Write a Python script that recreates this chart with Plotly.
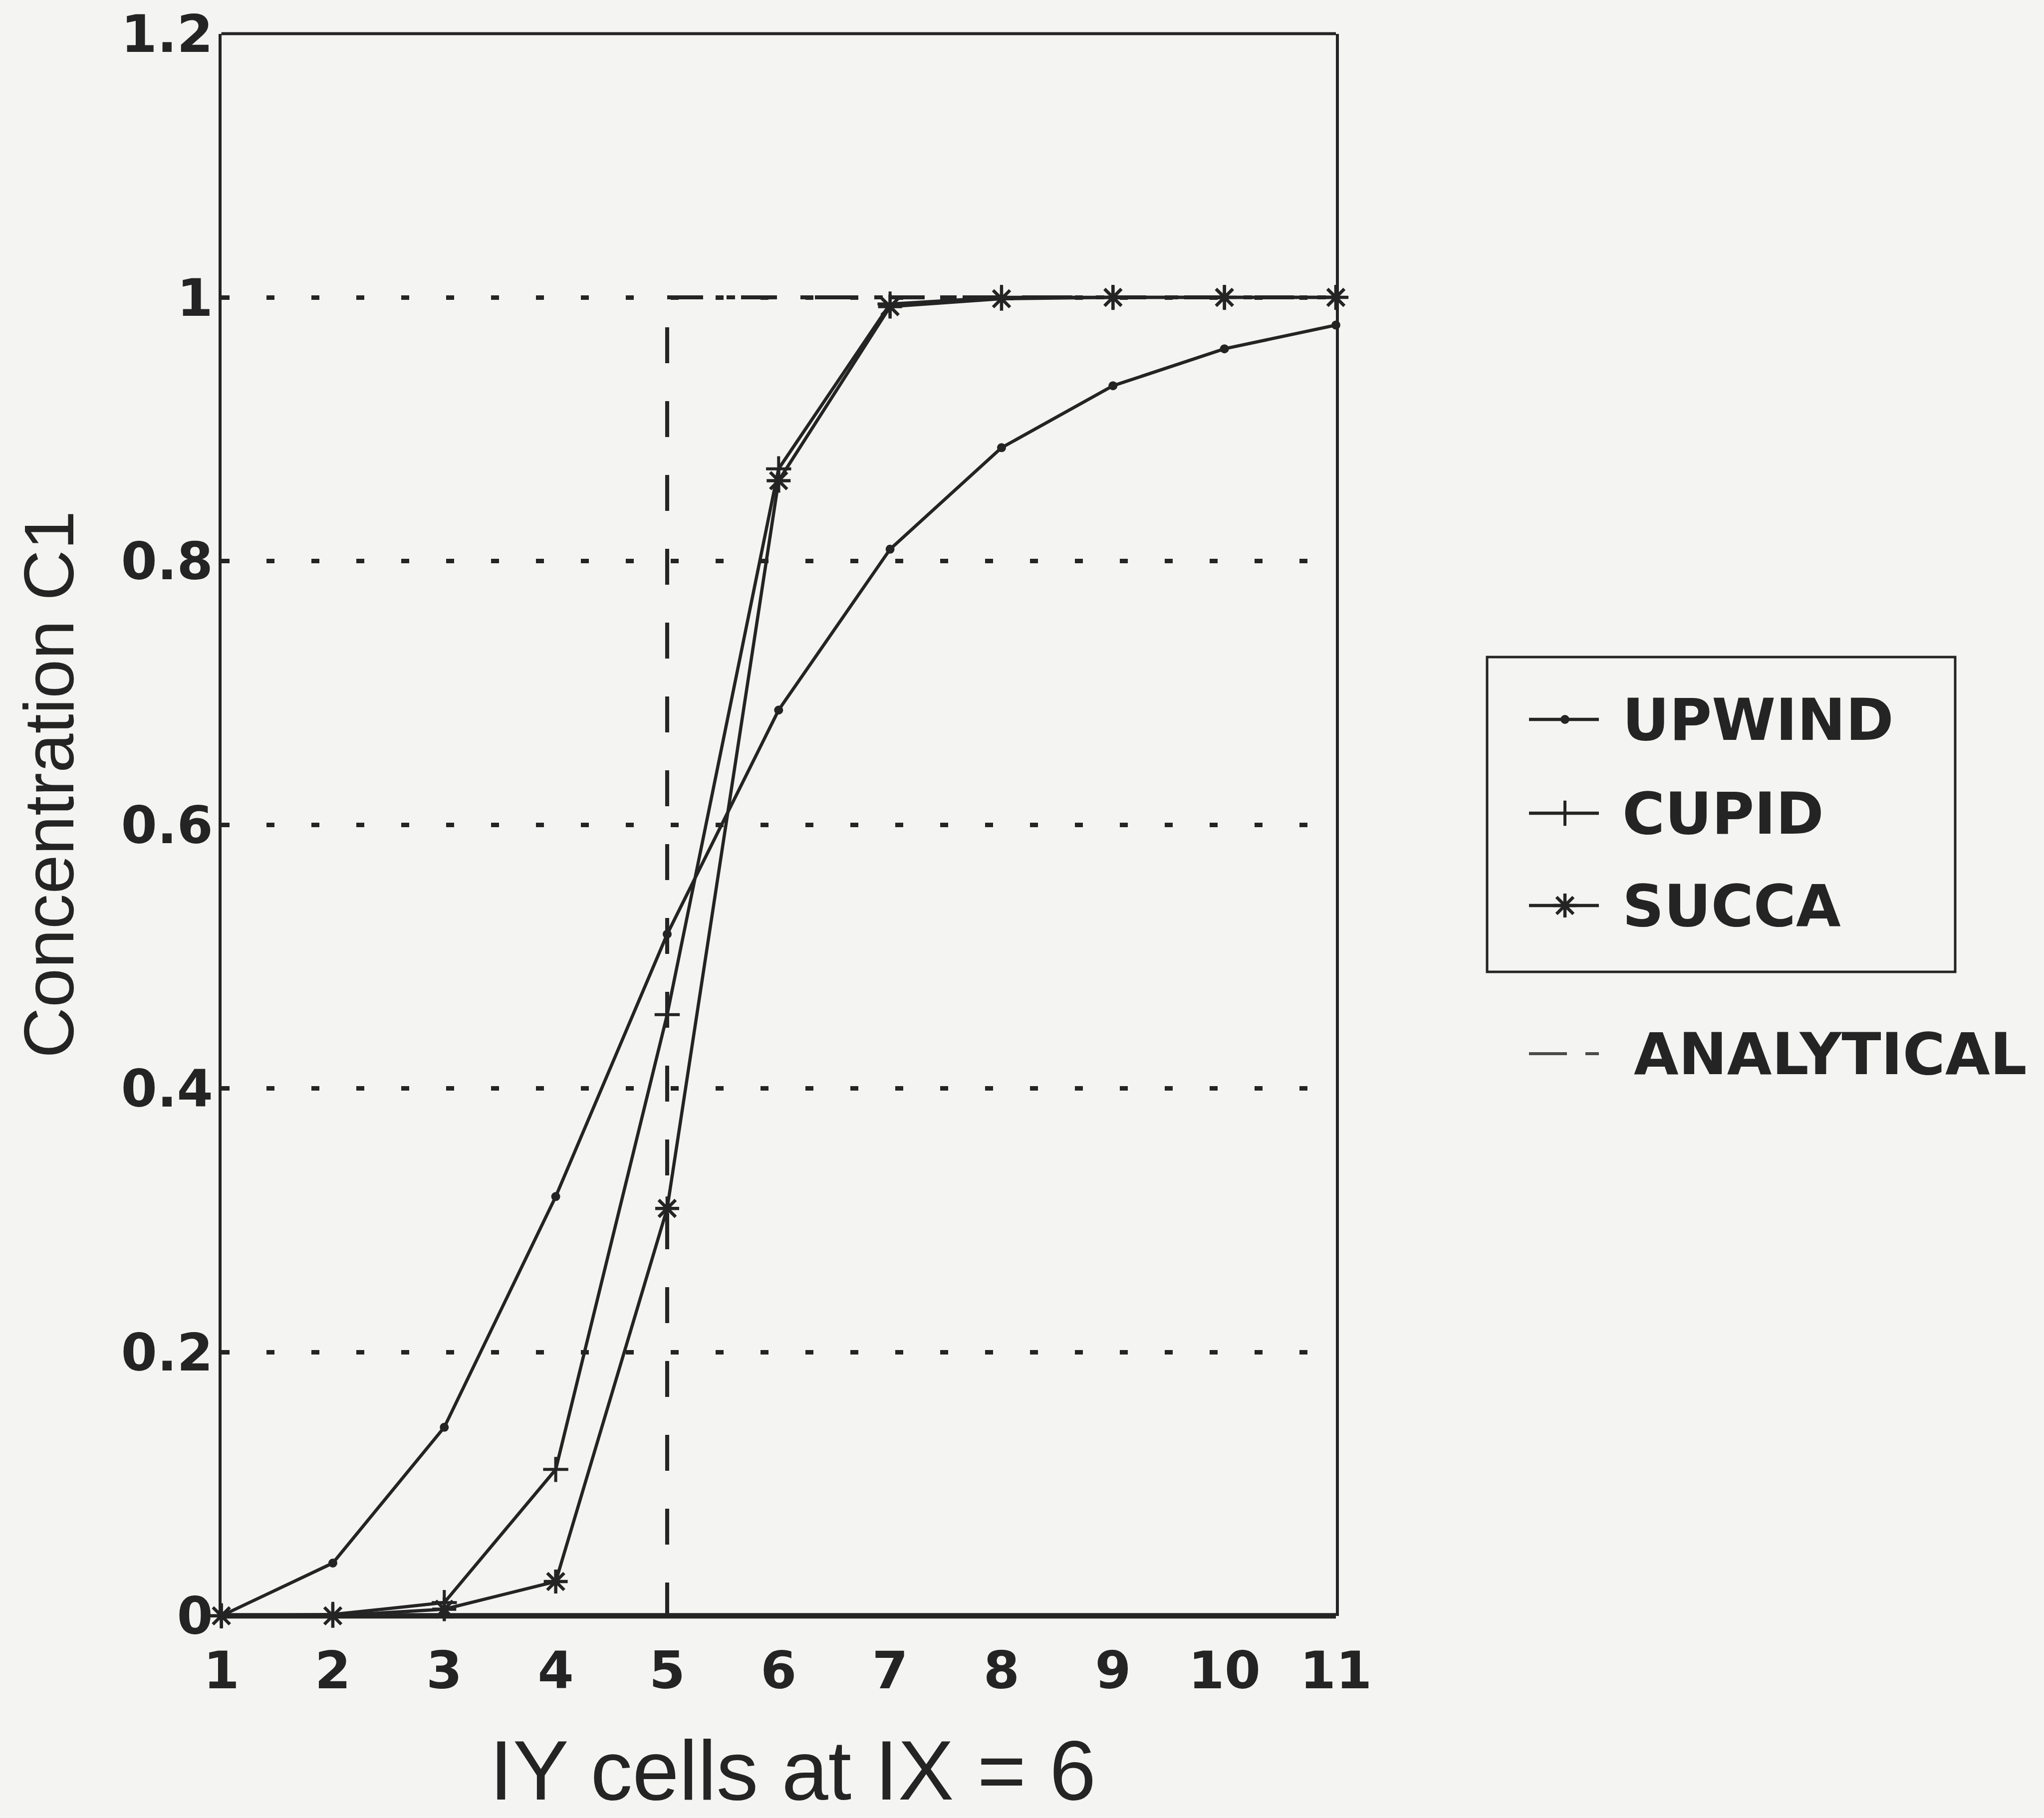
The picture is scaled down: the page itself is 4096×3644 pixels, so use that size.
import plotly.graph_objects as go

# ---------------- data ----------------
iy_cells = [1, 2, 3, 4, 5, 6, 7, 8, 9, 10, 11]
upwind = [0.0, 0.040, 0.143, 0.318, 0.517, 0.687, 0.809, 0.886, 0.933, 0.961, 0.979]
cupid = [0.0, 0.001, 0.010, 0.111, 0.456, 0.870, 0.995, 1.0, 1.0, 1.0, 1.0]
succa = [0.0, 0.0, 0.005, 0.026, 0.309, 0.861, 0.993, 0.999, 1.0, 1.0, 1.0]
analytical_x = [1, 5, 5, 11]
analytical_y = [0, 0, 1, 1]

y_tickvals = [0, 0.2, 0.4, 0.6, 0.8, 1.0, 1.2]
y_ticktext = ["0", "0.2", "0.4", "0.6", "0.8", "1", "1.2"]
x_tickvals = iy_cells
x_ticktext = [str(v) for v in iy_cells]

series_names = ["UPWIND", "CUPID", "SUCCA"]
analytical_name = "ANALYTICAL"
x_title = "IY cells at IX = 6"
y_title = "Concentration C1"

# ---------------- styling / layout ----------------
W, H = 4096, 3644
INK = "#242424"
BG = "#f4f4f2"

# plot area in pixels
PL, PR, PT, PB = 443.6, 2677.0, 67.6, 3238.7


def px(x):
    return x / W


def py(y):
    return 1 - y / H


LINE_W = 6.5
marker_styles = {
    "UPWIND": dict(symbol="circle", size=18, color=INK, line=dict(width=0)),
    "CUPID": dict(symbol="cross-thin", size=36, color=INK, line=dict(width=6, color=INK)),
    "SUCCA": dict(symbol="asterisk", size=40, color=INK, line=dict(width=6.5, color=INK)),
}

fig = go.Figure()

# analytical solution (under the others): step rise drawn with long dashes,
# plateau drawn with long-short dashes
fig.add_trace(go.Scatter(
    x=analytical_x[:3], y=analytical_y[:3], mode="lines", name=analytical_name,
    line=dict(color=INK, width=8, dash="72px,76px"),
    cliponaxis=False, showlegend=False, hoverinfo="skip",
))
fig.add_trace(go.Scatter(
    x=analytical_x[2:], y=analytical_y[2:], mode="lines", name=analytical_name,
    line=dict(color=INK, width=8, dash="72px,47px,17px,12px"),
    cliponaxis=False, showlegend=False, hoverinfo="skip",
))

for name, vals in zip(series_names, [upwind, cupid, succa]):
    fig.add_trace(go.Scatter(
        x=iy_cells, y=vals, mode="lines+markers", name=name,
        line=dict(color=INK, width=LINE_W),
        marker=marker_styles[name],
        cliponaxis=False, showlegend=False,
    ))

# ---------------- hand-drawn legend (pixel overlay axes) ----------------
leg_line_x0, leg_line_x1, leg_mark_x = 3064, 3204, 3136
leg_rows = {"UPWIND": 1442, "CUPID": 1630, "SUCCA": 1815}
for name in series_names:
    yy = leg_rows[name]
    fig.add_trace(go.Scatter(
        x=[leg_line_x0, leg_line_x1], y=[yy, yy], mode="lines",
        line=dict(color=INK, width=LINE_W), xaxis="x2", yaxis="y2",
        showlegend=False, hoverinfo="skip", cliponaxis=False,
    ))
    fig.add_trace(go.Scatter(
        x=[leg_mark_x], y=[yy], mode="markers", marker=marker_styles[name],
        xaxis="x2", yaxis="y2", showlegend=False, hoverinfo="skip", cliponaxis=False,
    ))
# analytical key (outside the box)
an_y = 2112
fig.add_trace(go.Scatter(
    x=[leg_line_x0, leg_line_x1], y=[an_y, an_y], mode="lines",
    line=dict(color="#4a4a4a", width=6, dash="76px,37px,28px,40px"),
    xaxis="x2", yaxis="y2", showlegend=False, hoverinfo="skip", cliponaxis=False,
))

annotations = []
LEG_FONT = dict(family="DejaVu Sans", size=116, color=INK)
for name in series_names:
    annotations.append(dict(
        x=px(3249), y=py(leg_rows[name]), xref="paper", yref="paper",
        text="<b>%s</b>" % name, showarrow=False, xanchor="left", yanchor="middle",
        font=LEG_FONT,
    ))
annotations.append(dict(
    x=px(3272), y=py(an_y), xref="paper", yref="paper",
    text="<b>%s</b>" % analytical_name, showarrow=False, xanchor="left", yanchor="middle",
    font=LEG_FONT,
))
# axis titles
annotations.append(dict(
    x=px(1589), y=py(3549), xref="paper", yref="paper", text=x_title,
    showarrow=False, xanchor="center", yanchor="middle",
    font=dict(family="Liberation Sans", size=168, color=INK),
))
annotations.append(dict(
    x=px(98), y=py(1573), xref="paper", yref="paper", text=y_title,
    showarrow=False, xanchor="center", yanchor="middle", textangle=-90,
    font=dict(family="Liberation Sans", size=141, color=INK),
))

shapes = [
    # legend box
    dict(type="rect", xref="paper", yref="paper",
         x0=px(2980), x1=px(3918), y0=py(1948), y1=py(1317),
         line=dict(color=INK, width=5), layer="above"),
    # top frame line
    dict(type="line", xref="x domain", yref="y domain", x0=0, x1=1, y0=1, y1=1,
         line=dict(color=INK, width=6), layer="above"),
    # thick bottom axis line
    dict(type="line", xref="x domain", yref="y domain", x0=0, x1=1, y0=0, y1=0,
         line=dict(color=INK, width=11), layer="above"),
]

TICK_FONT = dict(family="DejaVu Sans", size=104, color=INK, weight="bold")

fig.update_layout(
    width=W, height=H,
    margin=dict(l=0, r=0, t=0, b=0, pad=0, autoexpand=False),
    paper_bgcolor=BG, plot_bgcolor="rgba(0,0,0,0)",
    showlegend=False,
    xaxis=dict(
        domain=[px(PL), px(PR)], range=[1, 11], anchor="y", automargin=False,
        tickmode="array", tickvals=x_tickvals, ticktext=x_ticktext,
        showgrid=False, zeroline=False, showline=False, ticks="",
        tickfont=TICK_FONT, ticklabelstandoff=40,
    ),
    yaxis=dict(
        domain=[py(PB), py(PT)], range=[0, 1.2], anchor="x", automargin=False,
        tickmode="array", tickvals=y_tickvals, ticktext=y_ticktext,
        showgrid=True, gridcolor=INK, gridwidth=9, griddash="16px,74px",
        zeroline=False, showline=True, linecolor=INK, linewidth=6, mirror=True,
        ticks="", tickfont=TICK_FONT, ticklabelstandoff=-10,
    ),
    xaxis2=dict(domain=[0, 1], range=[0, W], anchor="y2", visible=False,
                fixedrange=True, automargin=False),
    yaxis2=dict(domain=[0, 1], range=[H, 0], anchor="x2", visible=False,
                fixedrange=True, automargin=False),
    annotations=annotations,
    shapes=shapes,
)

fig.write_html("out.html")
